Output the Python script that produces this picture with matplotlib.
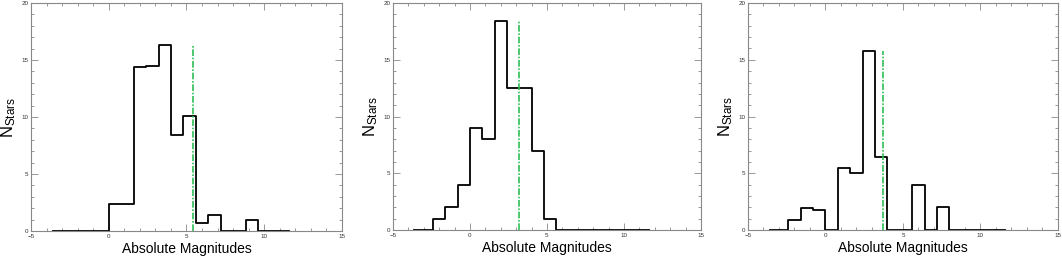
import matplotlib
matplotlib.use('Agg')
import matplotlib.pyplot as plt
from matplotlib.ticker import MultipleLocator
import numpy as np

plt.rcParams['font.family'] = ['Liberation Sans', 'DejaVu Sans']
plt.rcParams['mathtext.default'] = 'regular'

# bin centres (IDL psym=10 style histogram)
bin_centers = np.round(np.arange(-3.6, 11.61, 0.8), 2)

counts_1 = [0, 0, 0, 0, 0, 2.4, 2.4, 14.4, 14.5, 16.3, 8.4, 10.1,
            0.7, 1.4, 0, 0, 1.0, 0, 0, 0]
counts_2 = [0, 0, 1, 2, 4, 9, 8, 18.4, 12.5, 12.5, 7, 1,
            0, 0, 0, 0, 0, 0, 0, 0]
counts_3 = [0, 0, 0.9, 1.9, 1.8, 0, 5.5, 5.0, 15.8, 6.4, 0, 0,
            4.0, 0, 2.0, 0, 0, 0, 0, 0]

# position of the vertical (green) marker line in each panel
marker_x = [5.4, 3.2, 3.7]

all_counts = [counts_1, counts_2, counts_3]

# axes rectangles in figure fraction
positions = [
    (0.0292, 0.101, 0.2928, 0.887),
    (0.3700, 0.105, 0.2900, 0.883),
    (0.7043, 0.105, 0.2919, 0.883),
]

fig = plt.figure(figsize=(10.62, 2.57), dpi=100)

for pos, counts, mx in zip(positions, all_counts, marker_x):
    ax = fig.add_axes(pos)
    ax.step(bin_centers, counts, where='mid', color='black', lw=1.3)
    ax.plot([mx, mx], [0, max(counts)], color='#2fbf55', lw=1.2,
            linestyle=(0, (4, 1, 1, 1)))
    ax.set_xlim(-5, 15)
    ax.set_ylim(0, 20)
    ax.xaxis.set_major_locator(MultipleLocator(5))
    ax.xaxis.set_minor_locator(MultipleLocator(1))
    ax.yaxis.set_major_locator(MultipleLocator(5))
    ax.yaxis.set_minor_locator(MultipleLocator(1))
    ax.tick_params(which='both', direction='in', top=True, right=True,
                   color='#888888', labelsize=4.5, labelcolor='#333333', pad=2)
    ax.tick_params(which='major', length=5, width=0.6)
    ax.tick_params(which='minor', length=2.5, width=0.6)
    for sp in ax.spines.values():
        sp.set_color('#888888')
        sp.set_linewidth(0.8)
    ax.set_xlabel('Absolute Magnitudes', fontsize=10, labelpad=2)
    ax.set_ylabel('N$_{Stars}$', fontsize=12, labelpad=2)

fig.savefig('out.png', dpi=100)
